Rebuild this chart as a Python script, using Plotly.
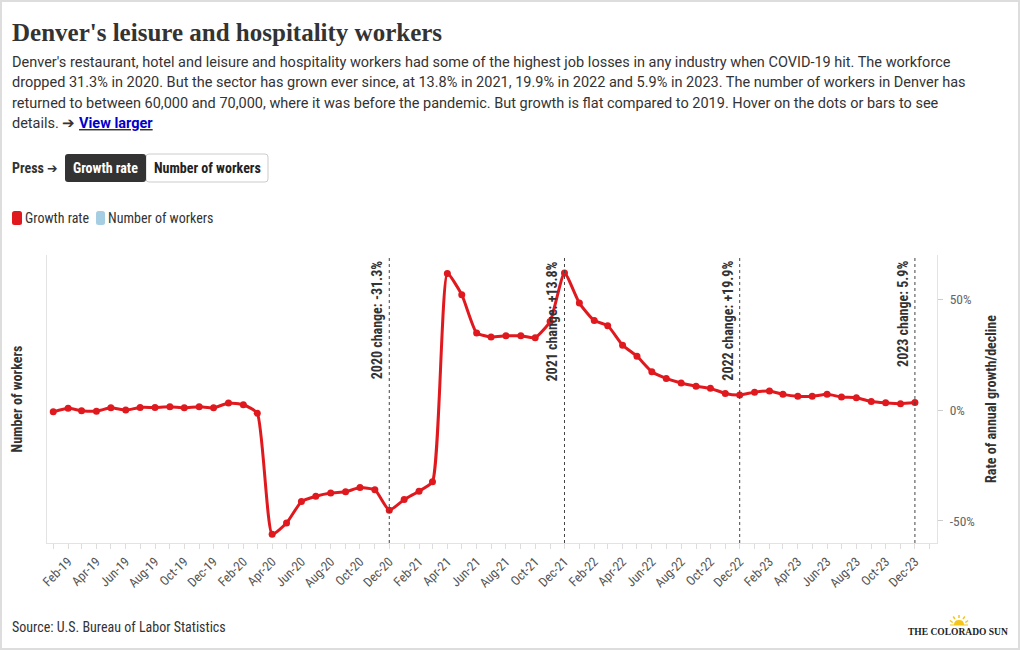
import plotly.graph_objects as go

# ---------------- data ----------------
years = [2019, 2020, 2021, 2022, 2023]
month_nums = list(range(1, 13))
dates = [f"{y}-{m:02d}-01" for y in years for m in month_nums]

growth_rate = [
    -0.8, 0.8, -0.3, -0.5, 1.0, 0.0, 1.2, 1.2, 1.5, 1.0, 1.5, 1.0,          # 2019
    3.2, 2.4, -1.4, -56.0, -51.0, -41.3, -38.9, -37.4, -36.9, -35.0, -36.0, -45.2,  # 2020
    -40.4, -36.6, -32.4, 61.6, 52.1, 34.8, 33.0, 33.5, 33.5, 32.7, 40.0, 61.9,      # 2021
    48.3, 40.4, 38.1, 29.3, 24.3, 17.3, 14.3, 12.2, 10.8, 9.8, 7.5, 6.8,            # 2022
    8.1, 8.6, 7.1, 6.2, 6.2, 7.1, 5.9, 5.6, 3.9, 3.3, 2.9, 3.4,                     # 2023
]

change_dates = ["2020-12-01", "2021-12-01", "2022-12-01", "2023-12-01"]
change_labels = ["2020 change: -31.3%", "2021 change: +13.8%",
                 "2022 change: +19.9%", "2023 change: 5.9%"]

rate_ticks = [-50, 0, 50]
rate_tick_text = ["-50%", "0%", "50%"]

# ---------------- style ----------------
RED = "#e0191f"
BLUE = "#a6cee3"
DARK = "#333333"
COND = "Roboto Condensed, Liberation Sans Narrow, DejaVu Sans Condensed, Roboto, sans-serif"
BODY = "Roboto, Noto Sans, sans-serif"
SERIF = "Liberation Serif, DejaVu Serif, serif"

W, H = 1020, 650
L, R, T, B = 47, 83, 255, 107
PW, PH = W - L - R, H - T - B


def px(x):
    return (x - L) / PW


def py(y):
    return (H - B - y) / PH


fig = go.Figure()

# hidden "Number of workers" series placeholder (left axis)
fig.add_trace(go.Bar(x=[], y=[], name="Number of workers", marker_color=BLUE,
                     yaxis="y", showlegend=False))

fig.add_trace(go.Scatter(
    x=dates, y=growth_rate, name="Growth rate", mode="lines+markers",
    line=dict(color=RED, width=3, shape="spline", smoothing=0.5),
    marker=dict(size=7, color=RED), yaxis="y2", showlegend=False,
    hovertemplate="%{x|%b-%y}: %{y:.1f}%<extra></extra>",
))

shapes = []
annotations = []

# vertical change lines + labels
for d, lab in zip(change_dates, change_labels):
    shapes.append(dict(type="line", xref="x", yref="paper", x0=d, x1=d, y0=0, y1=1,
                       line=dict(color="#444", width=1, dash="dot")))
    annotations.append(dict(x=d, xref="x", y=1, yref="paper", text=lab, textangle=-90,
                            showarrow=False, xanchor="right", yanchor="top",
                            xshift=-2, yshift=-4,
                            font=dict(family=COND, size=14, color=DARK, weight="bold")))

# title + subtitle
annotations.append(dict(x=px(10), y=py(32), xref="paper", yref="paper",
                        text="<b>Denver's leisure and hospitality workers</b>",
                        showarrow=False, xanchor="left", yanchor="middle",
                        font=dict(family=SERIF, size=25, color=DARK)))
sub_lines = [
    "Denver's restaurant, hotel and leisure and hospitality workers had some of the highest job losses in any industry when COVID-19 hit. The workforce",
    "dropped 31.3% in 2020. But the sector has grown ever since, at 13.8% in 2021, 19.9% in 2022 and 5.9% in 2023. The number of workers in Denver has",
    "returned to between 60,000 and 70,000, where it was before the pandemic. But growth is flat compared to 2019. Hover on the dots or bars to see",
    "details. ➔ <b><u><span style='color:#0000cc'>View larger</span></u></b>",
]
for i, s in enumerate(sub_lines):
    annotations.append(dict(x=px(10), y=py(62 + i * 20.5), xref="paper", yref="paper",
                            text=s, showarrow=False, xanchor="left", yanchor="middle",
                            font=dict(family=BODY, size=14.5, color=DARK)))

# "Press" + buttons
annotations.append(dict(x=px(10), y=py(168), xref="paper", yref="paper",
                        text="<b>Press ➔</b>", showarrow=False, xanchor="left",
                        yanchor="middle", font=dict(family=COND, size=14, color=DARK)))


def rrect(x0, y0, x1, y1, r, fill, line):
    X0, X1 = px(x0), px(x1)
    Y0, Y1 = py(y0), py(y1)
    rx, ry = r / PW, r / PH
    path = (f"M{X0+rx},{Y0} L{X1-rx},{Y0} Q{X1},{Y0} {X1},{Y0-ry} "
            f"L{X1},{Y1+ry} Q{X1},{Y1} {X1-rx},{Y1} L{X0+rx},{Y1} "
            f"Q{X0},{Y1} {X0},{Y1+ry} L{X0},{Y0-ry} Q{X0},{Y0} {X0+rx},{Y0} Z")
    return dict(type="path", xref="paper", yref="paper", path=path,
                fillcolor=fill, line=line, layer="above")


shapes.append(rrect(146, 154, 268, 182, 3, "#ffffff", dict(color="#cccccc", width=1)))
shapes.append(rrect(65, 154, 146, 182, 3, "#333333", dict(width=0)))
annotations.append(dict(x=px(105.5), y=py(168), xref="paper", yref="paper",
                        text="<b>Growth rate</b>", showarrow=False, xanchor="center",
                        yanchor="middle", font=dict(family=COND, size=14, color="#ffffff")))
annotations.append(dict(x=px(207), y=py(168), xref="paper", yref="paper",
                        text="<b>Number of workers</b>", showarrow=False, xanchor="center",
                        yanchor="middle", font=dict(family=COND, size=14, color="#222")))

# legend (custom swatches)
shapes.append(rrect(12, 211, 22, 225, 2.5, RED, dict(width=0)))
shapes.append(rrect(96, 211, 105, 225, 2.5, BLUE, dict(width=0)))
annotations.append(dict(x=px(23), y=py(218), xref="paper", yref="paper",
                        text="Growth rate", showarrow=False, xanchor="left",
                        yanchor="middle", font=dict(family=COND, size=14, color=DARK)))
annotations.append(dict(x=px(106), y=py(218), xref="paper", yref="paper",
                        text="Number of workers", showarrow=False, xanchor="left",
                        yanchor="middle", font=dict(family=COND, size=14, color=DARK)))

# footer
annotations.append(dict(x=px(10), y=py(627), xref="paper", yref="paper",
                        text="Source: U.S. Bureau of Labor Statistics", showarrow=False,
                        xanchor="left", yanchor="middle",
                        font=dict(family=COND, size=14, color=DARK)))
annotations.append(dict(x=px(1010), y=py(632), xref="paper", yref="paper",
                        text="<b>THE COLORADO SUN</b>", showarrow=False,
                        xanchor="right", yanchor="middle",
                        font=dict(family=SERIF, size=9.5, color="#222")))
# sun logo
cx, cy = 959, 625
shapes.append(dict(type="path", xref="paper", yref="paper", layer="above",
                   path=(f"M{px(cx-5)},{py(cy)} Q{px(cx-5)},{py(cy-5)} {px(cx)},{py(cy-5)} "
                         f"Q{px(cx+5)},{py(cy-5)} {px(cx+5)},{py(cy)} Z"),
                   fillcolor="#f5c518", line=dict(width=0)))
for dx, dy0, dy1 in [(0, -7, -10), (-4.5, -6, -8.5), (4.5, -6, -8.5), (-7, -2.5, -4.5), (7, -2.5, -4.5)]:
    shapes.append(dict(type="line", xref="paper", yref="paper", layer="above",
                       x0=px(cx + dx * 0.9), x1=px(cx + dx * 1.3),
                       y0=py(cy + dy0), y1=py(cy + dy1),
                       line=dict(color="#f5c518", width=1.5)))
shapes.append(dict(type="line", xref="paper", yref="paper", layer="above",
                   x0=px(cx - 9), x1=px(cx + 9), y0=py(cy), y1=py(cy),
                   line=dict(color="#f5c518", width=1)))

# outer frame
shapes.append(dict(type="rect", xref="paper", yref="paper",
                   x0=px(1), x1=px(1019), y0=py(1), y1=py(649),
                   line=dict(color="#dddddd", width=2), layer="below"))

fig.update_layout(
    width=W, height=H,
    margin=dict(l=L, r=R, t=T, b=B, autoexpand=False),
    paper_bgcolor="white", plot_bgcolor="white",
    showlegend=False,
    font=dict(family=COND, color=DARK),
    xaxis=dict(
        type="date", range=["2018-12-19", "2024-01-16"],
        tickformat="%b-%y", dtick="M2", tick0="2019-02-01", tickangle=-45,
        ticks="outside", ticklen=5, tickcolor="#dddddd",
        minor=dict(dtick="M1", tick0="2019-01-01", ticks="outside", ticklen=5,
                   tickcolor="#dddddd"),
        showline=True, linecolor="#e3e3e3", showgrid=False, zeroline=False,
        tickfont=dict(family=COND, size=13, color="#555"),
    ),
    yaxis=dict(
        range=[0, 1], showticklabels=False, ticks="", showgrid=False, zeroline=False,
        showline=True, linecolor="#e3e3e3",
        title=dict(text="<b>Number of workers</b>", standoff=20,
                   font=dict(family=COND, size=14, color=DARK)),
    ),
    yaxis2=dict(
        overlaying="y", side="right", range=[-60, 70],
        tickvals=rate_ticks, ticktext=rate_tick_text,
        ticks="outside", ticklen=5, tickcolor="#cccccc", ticklabelstandoff=4,
        tickfont=dict(family=COND, size=13.5, color="#666"),
        showgrid=False, zeroline=False, showline=True, linecolor="#e3e3e3",
        title=dict(text="<b>Rate of annual growth/decline</b>", standoff=12,
                   font=dict(family=COND, size=14, color=DARK)),
    ),
    shapes=shapes,
    annotations=annotations,
    hovermode="closest",
)

fig.write_html("out.html", config={"displayModeBar": False},
               post_script="document.body.style.margin='0';document.body.style.overflow='hidden';")
